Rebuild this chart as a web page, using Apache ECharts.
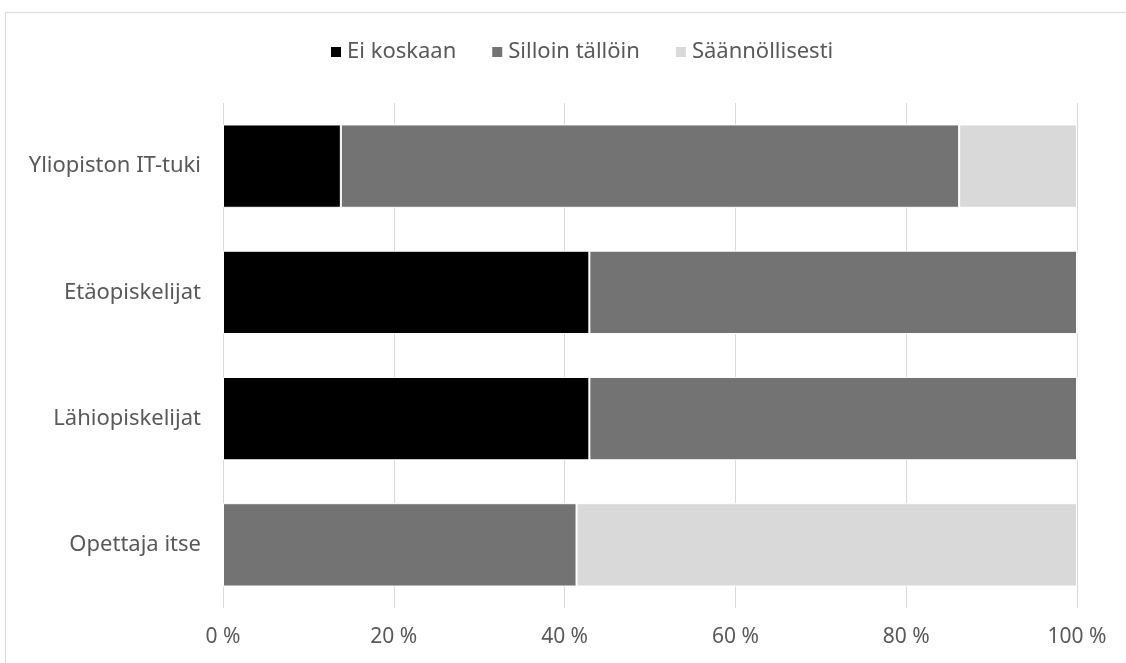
<!DOCTYPE html>
<html>
<head>
<meta charset="utf-8">
<style>
  html, body { margin: 0; padding: 0; background: #fff; }
  #chart { width: 1126px; height: 663px; }
</style>
<script src="https://cdn.jsdelivr.net/npm/echarts@6/dist/echarts.min.js"></script>
</head>
<body>
<div id="chart"></div>
<script>
'use strict';

// categories listed bottom to top (category axis draws first item at bottom)
const categories = ['Opettaja itse', 'Lähiopiskelijat', 'Etäopiskelijat', 'Yliopiston IT-tuki'];
const eiKoskaan = [0, 42.9, 42.9, 13.8];
const silloinTalloin = [41.4, 57.1, 57.1, 72.4];
const saannollisesti = [58.6, 0, 0, 13.8];
const xTicks = [0, 20, 40, 60, 80, 100];

const textColor = '#595959';
const font = '"Noto Sans", sans-serif';

let chart = echarts.init(document.getElementById('chart'));

function barSeries(name, data, color) {
  return {
    name: name,
    type: 'bar',
    stack: 'total',
    data: data,
    barCategoryGap: '34%',
    itemStyle: { color: color, borderColor: '#fff', borderWidth: 1 },
    emphasis: { disabled: true }
  };
}

chart.setOption({
  animation: false,
  textStyle: { fontFamily: font },
  graphic: [{
    type: 'rect',
    shape: { x: 5.5, y: 12.5, width: 1130, height: 660 },
    style: { fill: 'none', stroke: '#d9d9d9', lineWidth: 1 },
    silent: true
  }],
  legend: {
    top: 36,
    left: 324,
    itemWidth: 12,
    itemHeight: 12,
    itemGap: 34,
    icon: 'rect',
    textStyle: { color: textColor, fontSize: 22, fontFamily: font },
    data: ['Ei koskaan', 'Silloin tällöin', 'Säännöllisesti']
  },
  grid: { left: 223, right: 49, top: 103, bottom: 55, containLabel: false },
  xAxis: {
    type: 'value',
    min: xTicks[0],
    max: xTicks[xTicks.length - 1],
    interval: 20,
    axisLine: { show: false },
    axisTick: { show: false },
    splitLine: { lineStyle: { color: '#d9d9d9', width: 1 } },
    axisLabel: {
      color: textColor,
      fontSize: 21,
      margin: 19,
      fontFamily: font,
      formatter: function(v) { return v + ' %'; }
    }
  },
  yAxis: {
    type: 'category',
    data: categories,
    axisLine: { show: false },
    axisTick: { show: false },
    axisLabel: { color: textColor, fontSize: 22, margin: 22, fontFamily: font }
  },
  series: [
    barSeries('Ei koskaan', eiKoskaan, '#000000'),
    barSeries('Silloin tällöin', silloinTalloin, '#737373'),
    barSeries('Säännöllisesti', saannollisesti, '#d9d9d9')
  ]
});
</script>
</body>
</html>
